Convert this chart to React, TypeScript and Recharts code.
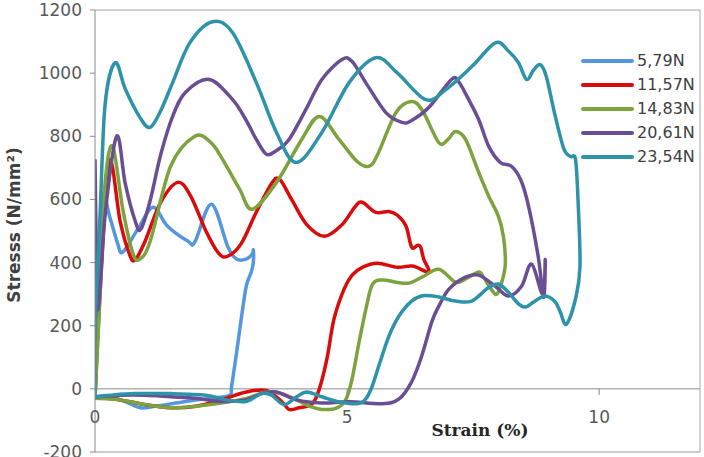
import { LineChart, Line, XAxis, YAxis, ReferenceLine, Legend } from 'recharts'

// axis setup
const strainTicks = [0, 5, 10]
const stressTicks = [-200, 0, 200, 400, 600, 800, 1000, 1200]
const seriesNames = ['5,79N', '11,57N', '14,83N', '20,61N', '23,54N']
const seriesColors = ['#5597DE', '#DA0B0B', '#7CA33E', '#6A4E94', '#2E93A9']

// 5,79N
const strain579 = [0, 0.07, 0.14, 0.3, 0.45, 0.55, 0.85, 1.15, 1.44, 1.84, 1.98, 2.31, 2.63, 2.81, 3.0, 3.12, 3.14, 3.14, 3.1, 3.0, 2.9, 2.81, 2.71, 2.67, 2.3, 2.0, 1.6, 1.2, 0.9, 0.6, 0.3, 0]
const stress579 = [-25, 300, 610, 540, 460, 433, 506, 575, 515, 468, 465, 585, 452, 411, 411, 427, 440, 400, 370, 325, 221, 117, 9, -20, -30, -35, -45, -55, -60, -40, -25, -25]

// 11,57N
const strain1157 = [0, 0.1, 0.28, 0.5, 0.7, 0.81, 1.0, 1.3, 1.64, 1.9, 2.2, 2.45, 2.63, 2.9, 3.2, 3.5, 3.66, 3.9, 4.2, 4.55, 4.9, 5.15, 5.3, 5.57, 5.83, 6.0, 6.17, 6.28, 6.4, 6.46, 6.52, 6.62, 6.3, 6.0, 5.6, 5.3, 5.1, 4.94, 4.74, 4.6, 4.45, 4.31, 4.05, 3.85, 3.7, 3.4, 3.0, 2.5, 2.0, 1.5, 1.0, 0.5, 0]
const stress1157 = [-25, 300, 720, 530, 420, 411, 470, 590, 654, 610, 500, 430, 420, 460, 560, 650, 664, 600, 520, 483, 520, 575, 591, 559, 562, 550, 515, 449, 455, 449, 411, 370, 389, 385, 398, 385, 360, 316, 221, 95, 0, -47, -60, -65, -40, -5, -10, -35, -55, -60, -50, -35, -25]

// 14,83N
const strain1483 = [0, 0.1, 0.2, 0.35, 0.55, 0.75, 0.89, 1.1, 1.5, 1.98, 2.3, 2.53, 2.87, 3.12, 3.6, 4.1, 4.45, 4.84, 5.2, 5.43, 5.6, 5.97, 6.28, 6.5, 6.82, 7.0, 7.15, 7.35, 7.61, 7.81, 8.0, 8.1, 8.14, 8.1, 8.04, 7.94, 7.7, 7.61, 7.35, 7.15, 6.82, 6.5, 6.23, 5.97, 5.7, 5.5, 5.37, 5.24, 5.1, 4.98, 4.8, 4.5, 4.25, 4.0, 3.7, 3.4, 3.0, 2.5, 2.0, 1.5, 1.0, 0.5, 0]
const stress1483 = [-30, 300, 650, 768, 570, 430, 411, 470, 705, 800, 780, 727, 632, 569, 654, 790, 863, 790, 720, 705, 740, 875, 910, 880, 780, 790, 815, 790, 686, 610, 547, 483, 401, 357, 325, 300, 355, 370, 348, 338, 379, 355, 335, 338, 345, 330, 250, 150, 32, -32, -60, -65, -55, -35, -15, -10, -30, -45, -55, -60, -50, -35, -30]

// 20,61N
const strain2061 = [0, 0.02, 0.06, 0.2, 0.43, 0.6, 0.8, 0.91, 1.1, 1.3, 1.54, 1.8, 2.27, 2.73, 3.0, 3.2, 3.4, 3.6, 3.85, 4.2, 4.5, 4.9, 5.1, 5.37, 5.77, 6.09, 6.28, 6.62, 7.07, 7.21, 7.4, 7.61, 7.81, 8.04, 8.26, 8.45, 8.6, 8.79, 8.9, 8.93, 8.88, 8.66, 8.46, 8.2, 7.94, 7.61, 7.35, 7.02, 6.82, 6.68, 6.48, 6.28, 6.03, 5.7, 5.04, 4.5, 4.0, 3.6, 3.3, 3.0, 2.5, 2.0, 1.5, 1.0, 0.5, 0]
const stress2061 = [727, 500, 250, 550, 800, 650, 530, 506, 600, 740, 863, 940, 980, 916, 850, 790, 743, 755, 790, 890, 980, 1043, 1037, 970, 875, 844, 850, 891, 980, 973, 920, 853, 768, 717, 705, 660, 578, 420, 290, 410, 300, 395, 325, 294, 325, 360, 354, 316, 262, 212, 104, 22, -32, -47, -41, -45, -35, -10, -15, -35, -40, -30, -25, -20, -20, -25]

// 23,54N
const strain2354 = [0, 0, 0.1, 0.2, 0.4, 0.6, 0.89, 1.09, 1.3, 1.54, 1.88, 2.33, 2.73, 3.2, 3.6, 3.99, 4.5, 5.04, 5.57, 6.0, 6.56, 6.96, 7.47, 7.94, 8.2, 8.4, 8.56, 8.7, 8.83, 8.95, 9.13, 9.3, 9.43, 9.53, 9.58, 9.62, 9.53, 9.35, 9.23, 9.13, 8.93, 8.7, 8.54, 8.4, 8.2, 8.0, 7.8, 7.47, 7.15, 6.82, 6.5, 6.28, 6.03, 5.83, 5.63, 5.5, 5.37, 5.2, 4.8, 4.5, 4.2, 4.0, 3.75, 3.5, 3.3, 3.0, 2.6, 2.2, 1.5, 0.8, 0.3, 0]
const stress2354 = [-25, 200, 550, 900, 1033, 950, 860, 828, 880, 970, 1096, 1163, 1128, 970, 812, 717, 812, 970, 1049, 1000, 916, 948, 1020, 1096, 1070, 1033, 980, 1010, 1027, 990, 863, 760, 736, 727, 600, 389, 284, 205, 243, 275, 294, 275, 259, 269, 306, 332, 320, 278, 278, 291, 295, 278, 231, 167, 73, 9, -32, -47, -40, -25, -10, -25, -50, -20, -15, -40, -35, -20, -15, -15, -20, -25]

const strainSets = [strain579, strain1157, strain1483, strain2061, strain2354]
const stressSets = [stress579, stress1157, stress1483, stress2061, stress2354]

const buildSeries = (xs: number[], ys: number[]) => xs.map((x, i) => ({ x, y: ys[i] }))

// layout
const W = 704
const H = 457
const M = { top: 10, right: 4, bottom: 4, left: 0 }
const Y_AXIS_W = 95
const X_AXIS_H = 1
const PLOT_H = H - M.top - M.bottom - X_AXIS_H
const ZERO_Y = M.top + (1200 / 1400) * PLOT_H

// excel-like smoothing (catmull-rom through every point, keeps point order)
function smoothCurve(context: any) {
  let pts: number[][] = []
  return {
    areaStart() {},
    areaEnd() {},
    lineStart() {
      pts = []
    },
    lineEnd() {
      if (!pts.length) return
      context.moveTo(pts[0][0], pts[0][1])
      for (let i = 0; i < pts.length - 1; i++) {
        const p0 = pts[i - 1] || pts[i]
        const p1 = pts[i]
        const p2 = pts[i + 1]
        const p3 = pts[i + 2] || p2
        context.bezierCurveTo(
          p1[0] + (p2[0] - p0[0]) / 6,
          p1[1] + (p2[1] - p0[1]) / 6,
          p2[0] - (p3[0] - p1[0]) / 6,
          p2[1] - (p3[1] - p1[1]) / 6,
          p2[0],
          p2[1]
        )
      }
    },
    point(x: number, y: number) {
      pts.push([+x, +y])
    },
  }
}

const StrainTick = ({ x, payload }: any) => (
  <g>
    {payload.value > 0 && <line x1={x} x2={x} y1={ZERO_Y} y2={ZERO_Y + 6} stroke="#8c8c8c" />}
    <text x={x} y={ZERO_Y + 34} textAnchor="middle" fill="#595959" fontSize={17} fontFamily="DejaVu Sans">
      {payload.value}
    </text>
  </g>
)

const LegendBox = ({ payload }: any) => {
  const items = [...(payload || [])].sort((a: any, b: any) => seriesNames.indexOf(a.value) - seriesNames.indexOf(b.value))
  return (
    <div>
      {items.map((item: any) => (
        <div key={item.value} style={{ display: 'flex', alignItems: 'center', height: 24 }}>
          <span style={{ width: 53, height: 4, background: item.color, borderRadius: 2, marginRight: 3 }} />
          <span style={{ fontFamily: 'DejaVu Sans', fontSize: 16, color: '#404040', lineHeight: '24px' }}>{item.value}</span>
        </div>
      ))}
    </div>
  )
}

export default function App() {
  return (
    <div style={{ position: 'absolute', left: 0, top: 0, width: W, height: H, background: '#fff' }}>
      <LineChart width={W} height={H} margin={M}>
        <XAxis
          type="number"
          dataKey="x"
          domain={[0, 12]}
          ticks={strainTicks}
          allowDataOverflow
          height={X_AXIS_H}
          axisLine={{ stroke: '#9a9a9a' }}
          tickLine={false}
          tick={<StrainTick />}
          interval={0}
        />
        <YAxis
          type="number"
          domain={[-200, 1200]}
          ticks={stressTicks}
          allowDataOverflow
          width={Y_AXIS_W}
          interval={0}
          axisLine={{ stroke: '#8c8c8c' }}
          tickLine={{ stroke: '#8c8c8c' }}
          tickSize={5}
          tickMargin={8}
          tick={{ fill: '#595959', fontSize: 17, fontFamily: 'DejaVu Sans' }}
        />
        <ReferenceLine y={0} stroke="#8c8c8c" />
        <ReferenceLine y={1200} stroke="#a6a6a6" />
        <ReferenceLine x={12} stroke="#a6a6a6" />
        <Legend
          layout="vertical"
          align="center"
          verticalAlign="middle"
          content={<LegendBox />}
          wrapperStyle={{ left: 581, top: 49, width: 123, height: 'auto' }}
        />
        {seriesNames.map((name, i) => (
          <Line
            key={name}
            name={name}
            data={buildSeries(strainSets[i], stressSets[i])}
            dataKey="y"
            type={smoothCurve as any}
            stroke={seriesColors[i]}
            strokeWidth={3.5}
            dot={false}
            activeDot={false}
            isAnimationActive={false}
          />
        ))}
      </LineChart>
      <div
        style={{
          position: 'absolute',
          left: 14,
          top: 225,
          transform: 'translate(-50%, -50%) rotate(-90deg)',
          whiteSpace: 'nowrap',
          fontFamily: 'DejaVu Sans',
          fontWeight: 'bold',
          fontSize: 17,
          color: '#404040',
        }}
      >
        Stresss (N/mm²)
      </div>
      <div
        style={{
          position: 'absolute',
          left: 480,
          top: 430,
          transform: 'translate(-50%, -50%)',
          whiteSpace: 'nowrap',
          fontFamily: 'DejaVu Serif',
          fontWeight: 'bold',
          fontSize: 17,
          color: '#262626',
        }}
      >
        Strain (%)
      </div>
    </div>
  )
}
